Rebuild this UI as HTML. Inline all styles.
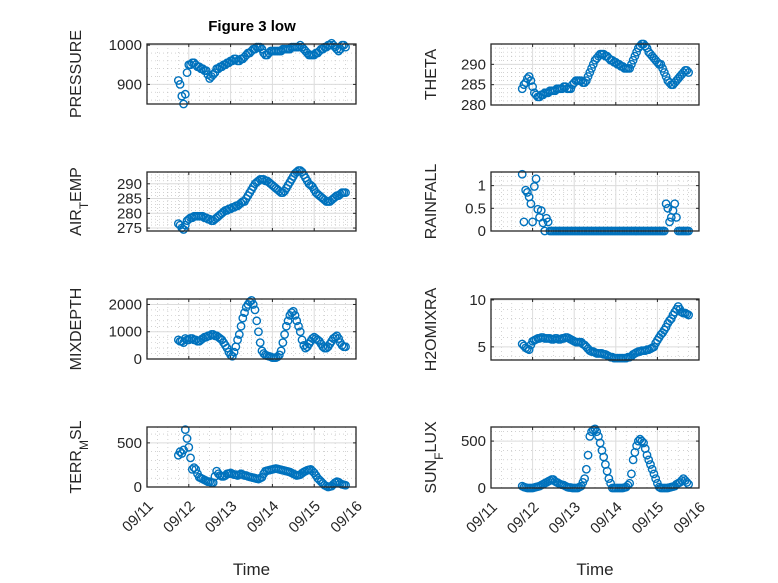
<!DOCTYPE html>
<html><head><meta charset="utf-8">
<style>
body{margin:0;background:#fff;}
svg{display:block;font-family:"Liberation Sans",sans-serif;}
</style></head>
<body>
<svg id="fig" width="778" height="583" viewBox="0 0 778 583" xmlns="http://www.w3.org/2000/svg">
<rect x="0" y="0" width="778" height="583" fill="#fff"/>
<text x="252" y="31" text-anchor="middle" font-size="15" font-weight="bold" fill="#000">Figure 3 low</text>
</svg>
<script>
const hours = [18,19,20,21,22,23,24,25,26,27,28,29,30,31,32,33,34,35,36,37,38,39,40,41,42,43,44,45,46,47,48,49,50,51,52,53,54,55,56,57,58,59,60,61,62,63,64,65,66,67,68,69,70,71,72,73,74,75,76,77,78,79,80,81,82,83,84,85,86,87,88,89,90,91,92,93,94,95,96,97,98,99,100,101,102,103,104,105,106,107,108,109,110,111,112,113,114];
const xTickLabels = ["09/11","09/12","09/13","09/14","09/15","09/16"];
const pressure = [910,900,870,850,875,930,950,950,955,955,950,945,945,940,940,935,935,925,915,920,925,930,940,940,945,945,950,950,955,955,960,960,965,965,960,960,965,965,970,975,980,980,985,990,990,995,995,995,990,980,975,975,980,985,985,985,985,985,985,985,990,990,990,990,990,995,995,995,995,995,1000,995,990,985,980,975,975,975,975,980,980,985,990,990,995,995,1000,1000,1005,1000,995,990,985,990,1000,1000,995];
const theta = [284,285,285.5,286.5,287,286,284.5,283,282.5,282,282,282.5,282.5,283,283,283,283.5,283.5,283.5,283.5,284,284,284,284,284.5,284.5,284,284,284,285,285.5,286,286,286,286,285.5,285.5,286,287,288,289,290,291,291.5,292,292.5,292.5,292.5,292,292,291.5,291,291,290.5,290.5,290,290,289.5,289.5,289,289,289,289,290,291,292,293,294,294.5,295,295,294.5,294,293,292.5,292,291.5,291,290.5,290,290,289,288,287,286,285.5,285,285,285.5,286,286.5,287,287.5,288,288.5,288.5,288];
const airTemp = [276.5,276,275,274.5,276,277.5,278,278.5,278.5,279,279,279,279,279,279,278.5,278.5,278,278,277.5,277.5,278,278.5,279,279.5,280,280.5,281,281,281.5,281.5,282,282,282.5,282.5,283,283.5,284,284,285,286,287,288,289,290,290.5,291,291.5,291.5,291.5,291,291,290.5,290,289.5,289,288.5,288,287.5,287,287,287.5,288.5,289.5,290.5,291.5,292.5,293.5,294,294.5,294.5,294,293,292,291,290,289.5,289,288,287,286.5,286,285.5,285,284.5,284,284,284,284.5,285,285.5,286,286,286.5,287,287,287];
const rainfall = [1.25,0.2,0.9,0.85,0.75,0.6,0.2,0.98,1.15,0.48,0.3,0.45,0.18,0,0.28,0.2,0,0,0,0,0,0,0,0,0,0,0,0,0,0,0,0,0,0,0,0,0,0,0,0,0,0,0,0,0,0,0,0,0,0,0,0,0,0,0,0,0,0,0,0,0,0,0,0,0,0,0,0,0,0,0,0,0,0,0,0,0,0,0,0,0,0,0,0.6,0.5,0.2,0.3,0.45,0.6,0.3,0,0,0,0,0,0,0];
const mixDepth = [700,650,650,600,750,700,700,750,750,700,700,650,650,700,750,800,800,850,850,900,900,850,850,800,750,700,600,500,400,250,150,100,250,450,700,900,1200,1500,1700,1900,2000,2100,2150,2000,1800,1400,1000,600,300,200,150,120,100,80,50,50,50,80,150,300,600,900,1200,1400,1600,1700,1750,1600,1400,1200,1000,700,500,400,450,550,650,750,800,750,700,650,550,450,400,400,450,550,650,750,800,850,750,600,500,450,450];
const h2oMix = [5.3,5.1,4.9,4.8,4.7,5.2,5.6,5.7,5.8,5.9,5.9,6.0,6.0,5.9,5.9,5.9,5.9,5.8,5.8,5.9,5.9,5.8,5.8,5.9,5.9,6.0,6.0,5.9,5.8,5.7,5.6,5.5,5.5,5.5,5.5,5.3,5.2,5.0,4.8,4.6,4.5,4.5,4.4,4.3,4.3,4.3,4.3,4.2,4.2,4.1,4.0,3.9,3.9,3.8,3.8,3.8,3.8,3.8,3.8,3.8,3.8,3.9,3.9,4.0,4.2,4.3,4.4,4.5,4.5,4.6,4.6,4.6,4.7,4.7,4.8,4.9,5.0,5.4,5.7,6.0,6.3,6.5,6.8,7.1,7.5,7.8,8.0,8.4,8.7,9.0,9.3,9.0,8.7,8.6,8.6,8.5,8.4];
const terrMsl = [360,400,380,420,650,550,450,330,200,220,200,150,110,100,90,80,70,60,60,50,50,120,180,150,130,120,120,130,150,150,160,150,140,140,130,140,150,140,130,130,120,115,110,105,100,95,90,100,110,150,180,185,190,195,200,205,210,205,200,195,190,185,180,175,170,160,150,140,130,135,140,155,170,180,190,195,200,180,160,130,100,80,60,40,20,10,0,5,10,30,50,60,55,40,30,25,20];
const sunFlux = [20,10,5,0,0,0,0,5,10,15,20,30,40,50,60,70,80,90,90,70,60,50,40,35,30,20,10,5,5,0,0,0,0,10,20,60,100,200,350,550,600,620,630,600,550,480,400,330,250,180,100,50,0,0,0,0,0,0,0,5,10,30,50,150,300,380,450,500,520,500,480,420,350,300,250,200,150,100,50,10,0,0,0,0,0,5,10,15,20,40,50,60,80,100,80,60,40];
const ticksPressure = [900,1000];
const ticksTheta = [280,285,290];
const ticksAir = [275,280,285,290];
const ticksRain = [0,0.5,1];
const ticksMix = [0,1000,2000];
const ticksH2o = [5,10];
const ticksTerr = [0,500];
const ticksSun = [0,500];

const NS="http://www.w3.org/2000/svg";
const svg=document.getElementById('fig');
function mk(tag,attrs,parent){const e=document.createElementNS(NS,tag);for(const k in attrs)e.setAttribute(k,attrs[k]);(parent||svg).appendChild(e);return e;}

const panels=[
 {name:'pressure',x0:147,x1:356,y0:44,y1:104,ymin:850,ymax:1003,minor:20,data:pressure,ticks:ticksPressure,lab:['PRESSURE'],lx:81,bottom:false},
 {name:'theta',x0:491,x1:699,y0:44,y1:105,ymin:280,ymax:295,minor:1,data:theta,ticks:ticksTheta,lab:['THETA'],lx:436,bottom:false},
 {name:'air-temp',x0:147,x1:356,y0:172,y1:231,ymin:274,ymax:294,minor:1,data:airTemp,ticks:ticksAir,lab:['AIR','T','EMP'],lx:81,bottom:false},
 {name:'rainfall',x0:491,x1:699,y0:172,y1:231,ymin:0,ymax:1.3,minor:0.1,data:rainfall,ticks:ticksRain,lab:['RAINFALL'],lx:436,bottom:false},
 {name:'mixdepth',x0:147,x1:356,y0:299,y1:359,ymin:0,ymax:2200,minor:200,data:mixDepth,ticks:ticksMix,lab:['MIXDEPTH'],lx:81,bottom:false},
 {name:'h2omixra',x0:491,x1:699,y0:299,y1:360,ymin:3.6,ymax:10.1,minor:1,data:h2oMix,ticks:ticksH2o,lab:['H2OMIXRA'],lx:436,bottom:false},
 {name:'terr-msl',x0:147,x1:356,y0:427,y1:487,ymin:0,ymax:680,minor:100,data:terrMsl,ticks:ticksTerr,lab:['TERR','M','SL'],lx:81,bottom:true},
 {name:'sun-flux',x0:491,x1:699,y0:427,y1:488,ymin:0,ymax:650,minor:100,data:sunFlux,ticks:ticksSun,lab:['SUN','F','LUX'],lx:436,bottom:true},
];

panels.forEach(p=>{
  const g=mk('g',{});
  
  
  const sx=h=>p.x0+(h/24)/5*(p.x1-p.x0);
  const sy=v=>p.y1-(v-p.ymin)/(p.ymax-p.ymin)*(p.y1-p.y0);
  mk('rect',{x:p.x0,y:p.y0,width:p.x1-p.x0,height:p.y1-p.y0,fill:'#fff'},g);
  for(let d=0;d<5;d++)for(let q=1;q<4;q++){const x=sx((d+q/4)*24);
    mk('line',{x1:x,x2:x,y1:p.y0,y2:p.y1,stroke:'#b8b8b8','stroke-width':0.6,'stroke-dasharray':'1 3'},g);}
  const start=Math.ceil(p.ymin/p.minor-1e-9);
  for(let k=start;k*p.minor<=p.ymax+1e-9;k++){const v=k*p.minor;const y=sy(v);
    mk('line',{x1:p.x0,x2:p.x1,y1:y,y2:y,stroke:'#b8b8b8','stroke-width':0.6,'stroke-dasharray':'1 3'},g);}
  for(let d=1;d<5;d++){const x=sx(d*24);mk('line',{x1:x,x2:x,y1:p.y0,y2:p.y1,stroke:'#dcdcdc','stroke-width':1},g);}
  p.ticks.forEach(v=>{const y=sy(v);
    mk('line',{x1:p.x0,x2:p.x1,y1:y,y2:y,stroke:'#dcdcdc','stroke-width':1},g);
    mk('line',{x1:p.x0,x2:p.x0+3,y1:y,y2:y,stroke:'#262626'},g);
    mk('line',{x1:p.x1,x2:p.x1-3,y1:y,y2:y,stroke:'#262626'},g);
    const t=mk('text',{x:p.x0-5,y:y+5,'text-anchor':'end','font-size':15,fill:'#262626'},g);
    
    
    t.textContent=String(v);
  });
  for(let d=1;d<5;d++){const x=sx(d*24);
    mk('line',{x1:x,x2:x,y1:p.y1,y2:p.y1-3,stroke:'#262626'},g);
    mk('line',{x1:x,x2:x,y1:p.y0,y2:p.y0+3,stroke:'#262626'},g);}
  p.data.forEach((v,i)=>{
    const c=mk('circle',{cx:sx(hours[i]),cy:sy(v),r:3.7,fill:'none',stroke:'#0072BD','stroke-width':1.4},g);
    
    
  });
  mk('rect',{x:p.x0,y:p.y0,width:p.x1-p.x0,height:p.y1-p.y0,fill:'none',stroke:'#262626','stroke-width':1.3},g);
  const cy=(p.y0+p.y1)/2;
  const yl=mk('text',{x:0,y:0,transform:`translate(${p.lx},${cy}) rotate(-90)`,'text-anchor':'middle','font-size':16,fill:'#262626'},g);
  
  
  if(p.lab.length===1){yl.textContent=p.lab[0];}
  else{
    const a=mk('tspan',{},yl);a.textContent=p.lab[0];
    const b=mk('tspan',{'baseline-shift':'sub','font-size':12},yl);b.textContent=p.lab[1];
    const c=mk('tspan',{'baseline-shift':'0'},yl);c.textContent=p.lab[2];
  }
  if(p.bottom){
    xTickLabels.forEach((lbl,d)=>{const x=sx(d*24);
      const t=mk('text',{x:0,y:0,transform:`translate(${x+7},${p.y1+20}) rotate(-45)`,'text-anchor':'end','font-size':15,fill:'#262626'},g);
      
      
      t.textContent=lbl;
    });
    const xt=mk('text',{x:(p.x0+p.x1)/2,y:575,'text-anchor':'middle','font-size':17,fill:'#262626'},g);
    
    
    xt.textContent='Time';
  }
});
</script>
</body></html>
